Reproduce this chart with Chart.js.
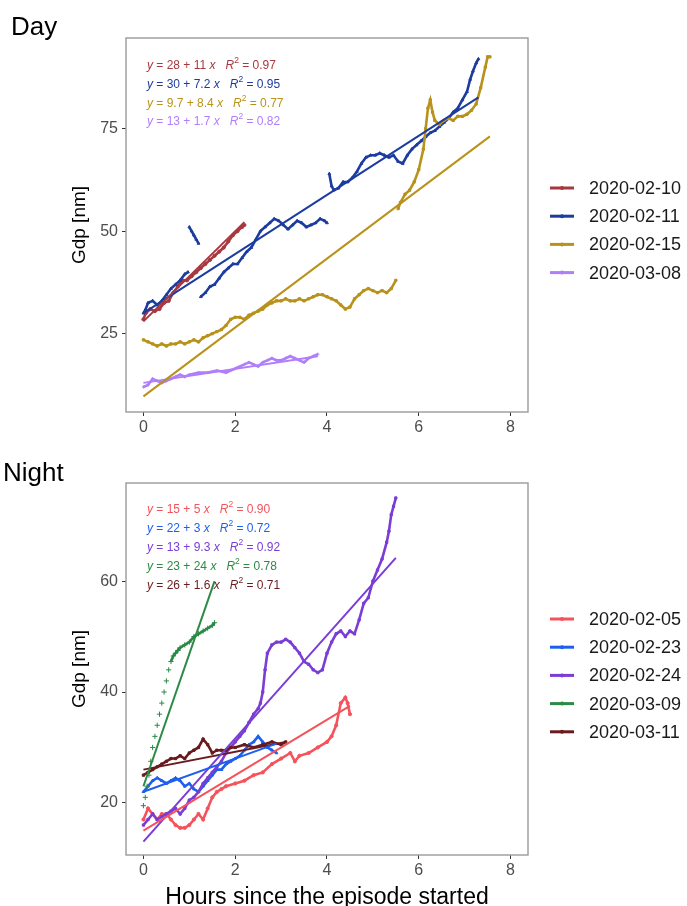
<!DOCTYPE html>
<html><head><meta charset="utf-8">
<script src="https://cdn.jsdelivr.net/npm/chart.js@4.4.1/dist/chart.umd.min.js"></script>
<style>
html,body{margin:0;padding:0;background:#fff;width:687px;height:906px;overflow:hidden;}
.wrap{position:absolute;left:0;width:687px;height:453px;}
</style></head>
<body>
<div class="wrap" style="top:0"><canvas id="c1" width="687" height="453"></canvas></div>
<div class="wrap" style="top:453px"><canvas id="c2" width="687" height="453"></canvas></div>
<script>
// ---------- DATA ----------
const xTicks = [0, 2, 4, 6, 8];
const dayYTicks = [25, 50, 75];
const nightYTicks = [20, 40, 60];

const dayLabels = ['2020-02-10', '2020-02-11', '2020-02-15', '2020-03-08'];
const nightLabels = ['2020-02-05', '2020-02-23', '2020-02-24', '2020-03-09', '2020-03-11'];

// Day series
const d0210_h = [0,0.05,0.15,0.25,0.35,0.45,0.55,0.65,0.75,0.85,0.95,1.05,1.15,1.25,1.35,1.45,1.55,1.65,1.75,1.85,1.95,2.05,2.15,2.2];
const d0210_v = [28.5,30,31,30.5,31,32.5,33,35,36.5,38,38,39,40,41,42,43,44,45,46,47.5,49,50,51,51.5];

const d0211_h = [0,0.05,0.1,0.2,0.3,0.4,0.5,0.6,0.7,0.8,0.9,0.97,0.99,1.0,1.05,1.1,1.15,1.2,1.22,1.25,1.35,1.45,1.55,1.65,1.75,1.85,1.95,2.05,2.15,2.25,2.35,2.45,2.55,2.65,2.75,2.85,2.95,3.05,3.15,3.25,3.35,3.45,3.55,3.65,3.75,3.85,3.95,4.0,4.02,4.05,4.1,4.15,4.25,4.35,4.45,4.55,4.65,4.75,4.85,4.95,5.05,5.15,5.25,5.35,5.45,5.55,5.65,5.75,5.85,5.95,6.05,6.15,6.25,6.35,6.45,6.55,6.65,6.75,6.85,6.95,7.05,7.12,7.18,7.25,7.3];
const d0211_v = [30,31,32.5,33,32,33,34.5,36,37,38,39.5,40,null,51,50,49,48,47,null,34,35,36.5,37,38.5,40,41,42,42,43.5,45,46,48,50,51,52,53,52.5,51.5,50.5,51.5,52.5,52,51,51.5,52,53,52.5,52,null,64,61,60,60.5,62,62,63,64.5,66.5,68,68.5,68.5,69,68.5,68,68.5,67,66.5,68.5,70,71,72,73,74,74.5,75.5,76.5,77.5,79,80,82,84,87,89,91,92];

const d0215_h = [0,0.1,0.2,0.3,0.4,0.5,0.6,0.7,0.8,0.9,1.0,1.1,1.2,1.3,1.4,1.5,1.6,1.7,1.8,1.9,2.0,2.1,2.2,2.3,2.4,2.5,2.6,2.7,2.8,2.9,3.0,3.1,3.2,3.3,3.4,3.5,3.6,3.7,3.8,3.9,4.0,4.1,4.2,4.3,4.4,4.5,4.6,4.7,4.8,4.9,5.0,5.1,5.2,5.3,5.4,5.5,5.52,5.55,5.6,5.7,5.8,5.9,6.0,6.1,6.15,6.2,6.25,6.3,6.35,6.45,6.55,6.65,6.75,6.85,6.95,7.05,7.15,7.25,7.35,7.45,7.5,7.55];
const d0215_v = [23.5,23,22.5,22,22.5,22,22.5,22.5,23,22.5,23,23.5,23,24,24.5,25,25.5,26,27,28.5,29,29,28.5,29.5,30,30.5,31,32,32.5,33,33,33.5,33,33,33.5,33,33.5,34,34.5,34.5,34,33.5,33,32,31,31.5,33.5,34.5,35.5,36,35.5,35,35.5,35,36,38,null,55.5,57,59,60,62,65,70,75,80,82,79,77,76,77,77.5,77,78,78,78.5,79.5,81,85,90,92.5,92.5];

const d0308_h = [0,0.1,0.2,0.3,0.4,0.5,0.6,0.7,0.8,0.9,1.0,1.2,1.4,1.6,1.8,2.0,2.2,2.3,2.4,2.5,2.6,2.7,2.8,2.9,3.0,3.1,3.2,3.3,3.4,3.5,3.6,3.7,3.8];
const d0308_v = [12,12.5,14,13.5,13,13.5,14,14.5,15,14.5,15,15.5,15.5,16,15.5,16.5,17.5,18,17.5,17,18,18.5,19,18.5,18.5,19,19.5,19,18.5,18,19,19.5,20];

// Day regression lines (start/end hours and values)
const dayFitH0 = [0, 0, 0, 0];
const dayFitH1 = [2.2, 7.3, 7.55, 3.8];
const dayFitV0 = [28, 30, 9.7, 13];
const dayFitV1 = [52.2, 82.6, 73.1, 19.5];
const dayEqA = ['28', '30', '9.7', '13'];
const dayEqB = ['11', '7.2', '8.4', '1.7'];
const dayR2 = ['0.97', '0.95', '0.77', '0.82'];

// Night series
const n0205_h = [0,0.1,0.2,0.3,0.4,0.5,0.6,0.7,0.8,0.9,1.0,1.1,1.2,1.3,1.4,1.5,1.6,1.7,1.8,2.0,2.2,2.4,2.6,2.8,3.0,3.2,3.3,3.4,3.6,3.8,4.0,4.1,4.2,4.3,4.4,4.45,4.5];
const n0205_v = [17,19,18,17,18,18,17,16,15.5,15.5,16,17,18,17,19,21,22,22.5,23,23.5,24,25,25.5,27,28,29,27.5,28.5,29,30,31,32,34,38,39,38,36];

const n0223_h = [0,0.1,0.2,0.3,0.4,0.5,0.6,0.7,0.8,0.9,1.0,1.1,1.2,1.3,1.4,1.5,1.6,1.7,1.8,1.9,2.0,2.1,2.2,2.3,2.4,2.5,2.6,2.7,2.8,2.9];
const n0223_v = [22,23,24,24.5,24,23.5,24,24.5,24,23,23.5,22.5,22,23,24,25,26,26,27,27.5,28,28.5,29.5,30.5,31,32,31,30,29.5,29];

const n0224_h = [0,0.1,0.2,0.3,0.4,0.5,0.6,0.7,0.8,0.9,1.0,1.1,1.2,1.3,1.4,1.5,1.6,1.7,1.8,1.9,2.0,2.1,2.2,2.3,2.4,2.5,2.55,2.6,2.65,2.7,2.8,2.9,3.0,3.1,3.2,3.3,3.4,3.5,3.6,3.7,3.8,3.9,4.0,4.1,4.2,4.3,4.4,4.5,4.6,4.7,4.8,4.9,5.0,5.1,5.2,5.3,5.35,5.4,5.45,5.5];
const n0224_v = [16,17,18,17,17.5,18,18.5,19,18,19,20.5,21,22,23.5,24.5,25.5,26.5,27.5,29,30,31,32,33,34.5,36,37,38,40,44,47,48.5,49,49,49.5,49,48,47,45.5,45,44,43.5,44,47,49,50.5,51,50,51,50.5,53,56,57,60,62,64,67,69,72,73.5,75];

const n0309_h = [0,0.04,0.08,0.12,0.16,0.2,0.25,0.3,0.35,0.4,0.45,0.5,0.55,0.6,0.65,0.7,0.75,0.8,0.9,1.0,1.1,1.2,1.3,1.4,1.5,1.55];
const n0309_v = [19.5,21,23,25,27.5,30,32,34,36,38,40,42,44,45.5,46.5,47,47.5,48,48.5,49,50,50.5,51,51.5,52,52.5];

const n0311_h = [0,0.1,0.2,0.3,0.4,0.5,0.6,0.7,0.8,0.9,1.0,1.1,1.2,1.3,1.4,1.5,1.6,1.7,1.8,1.9,2.0,2.2,2.4,2.6,2.8,3.0,3.1];
const n0311_v = [25,25.5,26,26.5,27,27.5,28,28,28.5,28,29,29.5,30,31.5,30.5,29,29.5,29.5,29.5,30,30,30.5,30,30.5,31,30.5,31];

const nightFitH0 = [0, 0, 0, 0, 0];
const nightFitH1 = [4.5, 2.9, 5.5, 1.55, 3.1];
const nightFitV0 = [15, 22, 13, 23, 26];
const nightFitV1 = [37.5, 30.7, 64.2, 60, 31];
const nightEqA = ['15', '22', '13', '23', '26'];
const nightEqB = ['5', '3', '9.3', '24', '1.6'];
const nightR2 = ['0.90', '0.72', '0.92', '0.78', '0.71'];

// ---------- STYLE ----------
const dayColors = ['#a8383f', '#1c3c9f', '#b8921b', '#b07efb'];
const dayShapes = ['circle', 'triangle', 'rect', 'cross'];
const nightColors = ['#f5535c', '#1f5ff0', '#7a3dd6', '#2b8a45', '#6a1b1e'];
const nightShapes = ['circle', 'triangle', 'rect', 'cross', 'rect'];
const FONT = "'Liberation Sans', Arial, sans-serif";

function pts(h, v) { return h.map((x, i) => ({x: x, y: v[i]})); }

// sparse (steep) stretches are drawn as separate markers, as in the reference
const steepHide = {
  borderColor: c => {
    const a = c.p0.parsed, b = c.p1.parsed;
    return (b.y - a.y) / (b.x - a.x) > 28 ? 'rgba(0,0,0,0)' : undefined;
  }
};

function buildDatasets(series, labels, colors, shapes, fh0, fh1, fv0, fv1, sparseIdx) {
  const ds = [];
  const n = series.length;
  series.forEach((s, i) => {
    ds.push({
      label: labels[i] + ' fit',
      data: [{x: fh0[i], y: fv0[i]}, {x: fh1[i], y: fv1[i]}],
      showLine: true, borderColor: colors[i], borderWidth: 2, pointRadius: 0,
      order: i
    });
  });
  series.forEach((s, i) => {
    const sparse = i === sparseIdx;
    ds.push({
      label: labels[i],
      data: pts(s[0], s[1]),
      showLine: true, spanGaps: false, borderColor: colors[i], backgroundColor: colors[i],
      borderWidth: 2.6, pointRadius: sparse ? 2.6 : 1.6, pointStyle: shapes[i], pointBorderWidth: 1,
      segment: sparse ? steepHide : undefined,
      order: 20 + (n - i)
    });
  });
  return ds;
}

function decoPlugin(cfg) {
  return {
    id: 'deco',
    afterDraw(chart) {
      const {ctx, chartArea: a} = chart;
      ctx.save();
      ctx.strokeStyle = '#9a9a9a'; ctx.lineWidth = 1.4;
      ctx.strokeRect(a.left, a.top, a.right - a.left, a.bottom - a.top);
      // panel title
      ctx.fillStyle = '#000'; ctx.font = '26px ' + FONT; ctx.textBaseline = 'alphabetic'; ctx.textAlign = 'left';
      ctx.fillText(cfg.title, cfg.titleX, cfg.titleY);
      // equations
      cfg.eqA.forEach((A, i) => {
        let x = cfg.eqX; const y = cfg.eqY0 + i * cfg.eqDY;
        ctx.fillStyle = cfg.colors[i]; ctx.textBaseline = 'middle';
        const seg = (t, italic, size, dy) => {
          ctx.font = (italic ? 'italic ' : '') + (size || 12) + 'px ' + FONT;
          ctx.fillText(t, x, y + (dy || 0)); x += ctx.measureText(t).width;
        };
        seg('y', true); seg(' = ' + A + ' + ' + cfg.eqB[i] + ' ', false); seg('x', true);
        seg('   ', false); seg('R', true); seg('2', false, 8.5, -5); seg(' = ' + cfg.r2[i], false);
      });
      // legend
      cfg.labels.forEach((lab, i) => {
        const y = cfg.legY0 + i * cfg.legDY;
        ctx.strokeStyle = cfg.colors[i]; ctx.lineWidth = 3;
        ctx.beginPath(); ctx.moveTo(550, y); ctx.lineTo(574, y); ctx.stroke();
        ctx.fillStyle = cfg.colors[i]; ctx.beginPath(); ctx.arc(562, y, 2, 0, Math.PI * 2); ctx.fill();
        ctx.fillStyle = '#1a1a1a'; ctx.font = '18px ' + FONT; ctx.textBaseline = 'middle';
        ctx.fillText(lab, 589, y + 1);
      });
      ctx.restore();
    }
  };
}

function makeChart(id, datasets, yMin, yMax, yTicks, xTitle, topPad, xAxisH, deco) {
  return new Chart(document.getElementById(id), {
    type: 'scatter',
    data: {datasets: datasets},
    options: {
      responsive: false, animation: false, devicePixelRatio: 1,
      layout: {padding: {left: 0, right: 159, top: topPad, bottom: 0}},
      plugins: {legend: {display: false}, tooltip: {enabled: false}},
      elements: {line: {tension: 0}},
      scales: {
        x: {
          type: 'linear', min: -0.38, max: 8.38,
          afterBuildTicks: s => { s.ticks = xTicks.map(v => ({value: v})); },
          afterFit: s => { s.height = xAxisH; },
          grid: {display: true, drawOnChartArea: false, drawTicks: true, tickLength: 4, color: '#333', lineWidth: 1},
          border: {display: false},
          ticks: {color: '#4d4d4d', font: {size: 16, family: FONT}, padding: 2, maxRotation: 0},
          title: xTitle ? {display: true, text: xTitle, color: '#000', font: {size: 23, family: FONT, lineHeight: 1}, padding: {top: 0, bottom: -3}} : {display: false}
        },
        y: {
          type: 'linear', min: yMin, max: yMax,
          afterBuildTicks: s => { s.ticks = yTicks.map(v => ({value: v})); },
          afterFit: s => { s.width = 126; },
          grid: {display: true, drawOnChartArea: false, drawTicks: true, tickLength: 4, color: '#333', lineWidth: 1},
          border: {display: false},
          ticks: {color: '#4d4d4d', font: {size: 16, family: FONT}, padding: 4},
          title: {display: true, text: 'Gdp [nm]', color: '#000', font: {size: 19, family: FONT, lineHeight: 1.2}, padding: {top: 68, bottom: 0}}
        }
      }
    },
    plugins: [decoPlugin(deco)]
  });
}

makeChart('c1',
  buildDatasets([[d0210_h, d0210_v], [d0211_h, d0211_v], [d0215_h, d0215_v], [d0308_h, d0308_v]],
    dayLabels, dayColors, dayShapes, dayFitH0, dayFitH1, dayFitV0, dayFitV1, -1),
  5.9, 97.1, dayYTicks, null, 38, 41,
  {title: 'Day', titleX: 11, titleY: 35, eqA: dayEqA, eqB: dayEqB, r2: dayR2, colors: dayColors,
   eqX: 147, eqY0: 66, eqDY: 18.7, labels: dayLabels, legY0: 188, legDY: 28.2});

makeChart('c2',
  buildDatasets([[n0205_h, n0205_v], [n0223_h, n0223_v], [n0224_h, n0224_v], [n0309_h, n0309_v], [n0311_h, n0311_v]],
    nightLabels, nightColors, nightShapes, nightFitH0, nightFitH1, nightFitV0, nightFitV1, 3),
  10.6, 77.7, nightYTicks, 'Hours since the episode started', 30, 51,
  {title: 'Night', titleX: 3, titleY: 28, eqA: nightEqA, eqB: nightEqB, r2: nightR2, colors: nightColors,
   eqX: 147, eqY0: 57, eqDY: 18.8, labels: nightLabels, legY0: 166, legDY: 28.2});
</script>
</body></html>
